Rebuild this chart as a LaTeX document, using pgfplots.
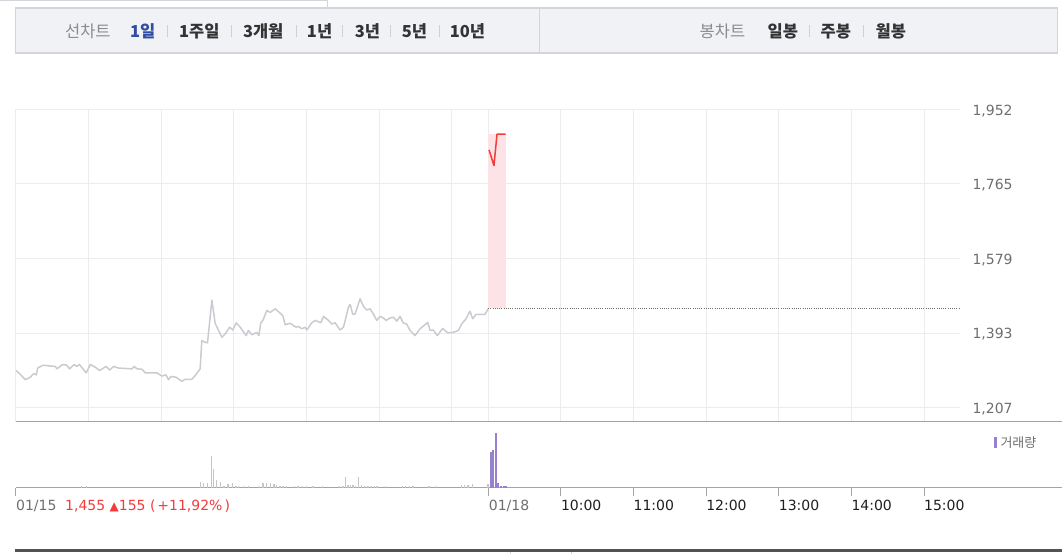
\documentclass[border=0pt]{standalone}
\usepackage{fontspec}
\setmainfont{DejaVu Sans}
\newfontfamily\kr{Noto Sans CJK KR}
\usepackage{pgfplots}
\pgfplotsset{compat=1.18}
\definecolor{gridc}{HTML}{ECECEC}
\definecolor{prevline}{HTML}{C9CBD1}
\definecolor{redline}{HTML}{F53A3A}
\definecolor{pinkfill}{HTML}{FDE3E6}
\definecolor{volgray}{HTML}{C3C5CB}
\definecolor{volpurple}{HTML}{9780D0}
\definecolor{volaxis}{HTML}{A4A4A4}
\definecolor{tabbg}{HTML}{F1F2F6}
\definecolor{tabborder}{HTML}{D3D5DA}
\definecolor{labgray}{HTML}{6E6E6E}
\definecolor{tabdark}{HTML}{333333}
\definecolor{tabblue}{HTML}{2F4DA3}
\definecolor{tabgray}{HTML}{8C8C8C}
\definecolor{redtext}{HTML}{F23B3B}
\definecolor{sepc}{HTML}{D0D0D0}
\newcommand\lab{\fontsize{14bp}{16bp}\selectfont}
\newcommand\tabf{\kr\fontsize{16.5bp}{19bp}\selectfont}
\begin{document}
\begin{tikzpicture}
\begin{scope}[x=1bp,y=1bp]
\path[use as bounding box] (0,0) rectangle (1063,554);
% top remnants
\draw[tabborder, line width=1bp] (0,553.5) -- (328,553.5) -- (328,546);
% tab bar
\draw[tabborder, fill=tabbg, line width=1.2bp] (15.5,546) rectangle (1058,501);
\draw[tabborder, line width=1.2bp] (540,546) -- (540,501);
\node[anchor=west, inner sep=0, text=tabgray] at (65,522.5) {\tabf 선차트};
\node[anchor=west, inner sep=0, text=tabblue] at (130,522.5) {\tabf\bfseries 1일};
\node[anchor=west, inner sep=0, text=tabdark] at (179,522.5) {\tabf\bfseries 1주일};
\node[anchor=west, inner sep=0, text=tabdark] at (243,522.5) {\tabf\bfseries 3개월};
\node[anchor=west, inner sep=0, text=tabdark] at (307,522.5) {\tabf\bfseries 1년};
\node[anchor=west, inner sep=0, text=tabdark] at (355,522.5) {\tabf\bfseries 3년};
\node[anchor=west, inner sep=0, text=tabdark] at (402,522.5) {\tabf\bfseries 5년};
\node[anchor=west, inner sep=0, text=tabdark] at (450,522.5) {\tabf\bfseries 10년};
\node[anchor=west, inner sep=0, text=tabgray] at (700,522.5) {\tabf 봉차트};
\node[anchor=west, inner sep=0, text=tabdark] at (768,522.5) {\tabf\bfseries 일봉};
\node[anchor=west, inner sep=0, text=tabdark] at (821,522.5) {\tabf\bfseries 주봉};
\node[anchor=west, inner sep=0, text=tabdark] at (876,522.5) {\tabf\bfseries 월봉};
\foreach \sx in {168,232,297,343,391,440,810,864}{
  \draw[sepc, line width=0.8bp] (\sx,516.5) -- (\sx,528.5);
}
\end{scope}

% main price axis
\begin{axis}[
  at={(16bp,132bp)}, anchor=south west,
  width=945bp, height=312.5bp, scale only axis,
  xmin=0, xmax=780, ymin=1172, ymax=1952,
  axis line style={draw=none},
  major tick length=0pt,
  xtick={0,60,120,180,240,300,360,390,450,510,570,630,690,750},
  xticklabels={},
  ytick={1207,1393.25,1579.5,1765.75,1952},
  yticklabels={{1,207},{1,393},{1,579},{1,765},{1,952}},
  yticklabel pos=right,
  yticklabel style={anchor=west, inner sep=0pt, xshift=12bp, yshift=-1.5bp, font=\lab, text=labgray},
  grid=major, grid style={gridc, line width=1bp},
  clip=true,
]
\addplot[fill=pinkfill, draw=none] coordinates {(390,1455) (390,1890) (404.5,1890) (404.5,1455)} -- cycle;
\addplot[color=labgray, line width=0.9bp, dash pattern=on 1bp off 1.2bp] coordinates {(390,1455) (780,1455)};
\addplot[prevline, line width=1.5bp, line join=round] coordinates {
(0,1300)(3.6,1290)(7.7,1277)(11.8,1283)(14.6,1292)(16.8,1289)(17.9,1306)(22.3,1313)(32.5,1310)(33.8,1304)(38,1314)(41.5,1314)(44.3,1304)(48.1,1315)(50.3,1310)(52.3,1315)(58,1294)(61.4,1315)(65.5,1308)(69,1300)(74.6,1310)(77.3,1301)(80.6,1310)(84.7,1306)(95.7,1304)(97.7,1310)(99.9,1304)(104,1303)(106.8,1294)(116.4,1294)(120.5,1286)(123.8,1289)(126,1277)(128,1285)(132.3,1283)(137,1273)(139.8,1278)(145.3,1278)(148.8,1290)(152.1,1304)(153.5,1375)(155.5,1371)(158.2,1369)(161.8,1476)(164.5,1418)(170,1383)(172.8,1391)(176.4,1408)(179.1,1401)(181.9,1419)(185.2,1408)(190.1,1387)(192,1400)(194.8,1389)(198.9,1395)(200.6,1387)(202.2,1419)(203.9,1425)(207.2,1450)(209.9,1445)(214.1,1454)(218.2,1443)(220.4,1437)(222.3,1414)(226.4,1418)(229.2,1412)(231.4,1408)(233.3,1410)(236.1,1404)(238.8,1408)(240.2,1401)(244.3,1419)(247.1,1425)(251.7,1419)(254,1435)(258.1,1425)(260.8,1416)(263.6,1419)(267.7,1401)(270.5,1408)(274.6,1458)(276,1465)(278.2,1440)(280.1,1441)(284.2,1479)(287,1460)(289.7,1451)(292.5,1454)(295.2,1441)(298,1425)(300.7,1435)(303.5,1431)(305.7,1425)(309,1431)(311.7,1433)(314.5,1423)(317.2,1435)(320,1418)(322.7,1416)(325.5,1400)(329.6,1387)(333.7,1404)(340.1,1420)(342,1400)(344.7,1401)(348,1387)(352.4,1405)(356.6,1394)(361.2,1395)(365.4,1400)(368.1,1416)(371.7,1429)(375,1448)(377.2,1429)(379.9,1440)(387.4,1440)(390,1454)
};
\addplot[redline, line width=1.5bp, line join=round] coordinates {(390.7,1851) (394.8,1812) (397.3,1890) (404.5,1890)};
\end{axis}

% volume axis
\begin{axis}[
  at={(16bp,66bp)}, anchor=south west,
  width=945bp, height=66bp, scale only axis,
  xmin=0, xmax=780, ymin=0, ymax=66,
  axis x line*=bottom, axis y line=none,
  x axis line style={-, draw=volaxis, line width=1.2bp},
  xtick={0,390,450,510,570,630,690,750},
  xticklabels={},
  tick align=outside, major tick length=8bp,
  xtick style={draw=volaxis, line width=1bp},
  clip=false,
]
\addplot[ycomb, volgray, line width=1.3bp, mark=none] coordinates {
(54,1.5)(58,1.5)(152.5,6)(155,4.3)(158,4.3)(161.5,31.7)(163,18.3)(165.6,7.3)(169,6)(171.7,1.7)(175,4)(179,4.3)(181.6,1.7)(184,1.7)(188,1.7)(192,1.7)(201,1.7)(204,4.3)(207,4.3)(210,4.3)(213,3.3)(215,2.3)(218,1.7)(220.6,1.7)(223.4,1.7)(230,1.7)(233,1.7)(236.7,1.7)(240,1.7)(245.4,1.7)(253,1.7)(267.4,1.7)(270.2,1.7)(272.1,10.7)(274.3,2.7)(276.3,2.7)(278.4,2.7)(280.6,1.7)(283.1,10.7)(285.3,2.7)(288,1.7)(290.8,1.7)(293.6,1.7)(296.3,1.3)(298.3,1.3)(305.4,1.3)(319.2,1.3)(322,1.3)(325.2,1.3)(328,1.3)(341.2,1.3)(347.2,1.3)(368,2.3)(370.6,2.3)(373.4,2.3)(377,3.3)(389.9,3.3)
};
\addplot[ycomb, volpurple, line width=1.8bp, mark=none] coordinates {
(392.5,36)(394,38)(396.8,55)(398.1,5)(400.9,1.7)(402.8,1.7)(404.4,1.7)
};
\end{axis}

\begin{scope}[x=1bp,y=1bp]
\draw[volaxis, line width=1.5bp] (16,132) -- (1063,132);
\draw[volaxis, line width=1.2bp] (961,66) -- (1063,66);
% legend
\fill[volpurple] (995,117) rectangle (998,106);
\node[anchor=west, inner sep=0, text=labgray] at (1001,111.5) {\kr\fontsize{13bp}{15bp}\selectfont 거래량};
% x labels
\node[anchor=west, inner sep=0, text=labgray] at (16,48) {\lab 01/15};
\node[anchor=west, inner sep=0, text=redtext] at (65,48) {\lab 1,455 {\fontsize{12bp}{12bp}\selectfont ▲}155 (\kern2bp+11,92\%\kern2bp)};
\node[anchor=west, inner sep=0, text=labgray] at (489,48) {\lab 01/18};
\foreach \tx/\tl in {561.2/10:00,633.9/11:00,706.6/12:00,779.2/13:00,851.9/14:00,924.6/15:00}{
  \node[anchor=west, inner sep=0, text=black!88] at (\tx,48) {\lab \tl};
}
% bottom bar
\fill[black!68] (15,2) rectangle (1063,5);
\draw[tabborder, line width=1bp] (511,0) -- (511,2) (572,0) -- (572,2);
\end{scope}
\end{tikzpicture}
\end{document}
